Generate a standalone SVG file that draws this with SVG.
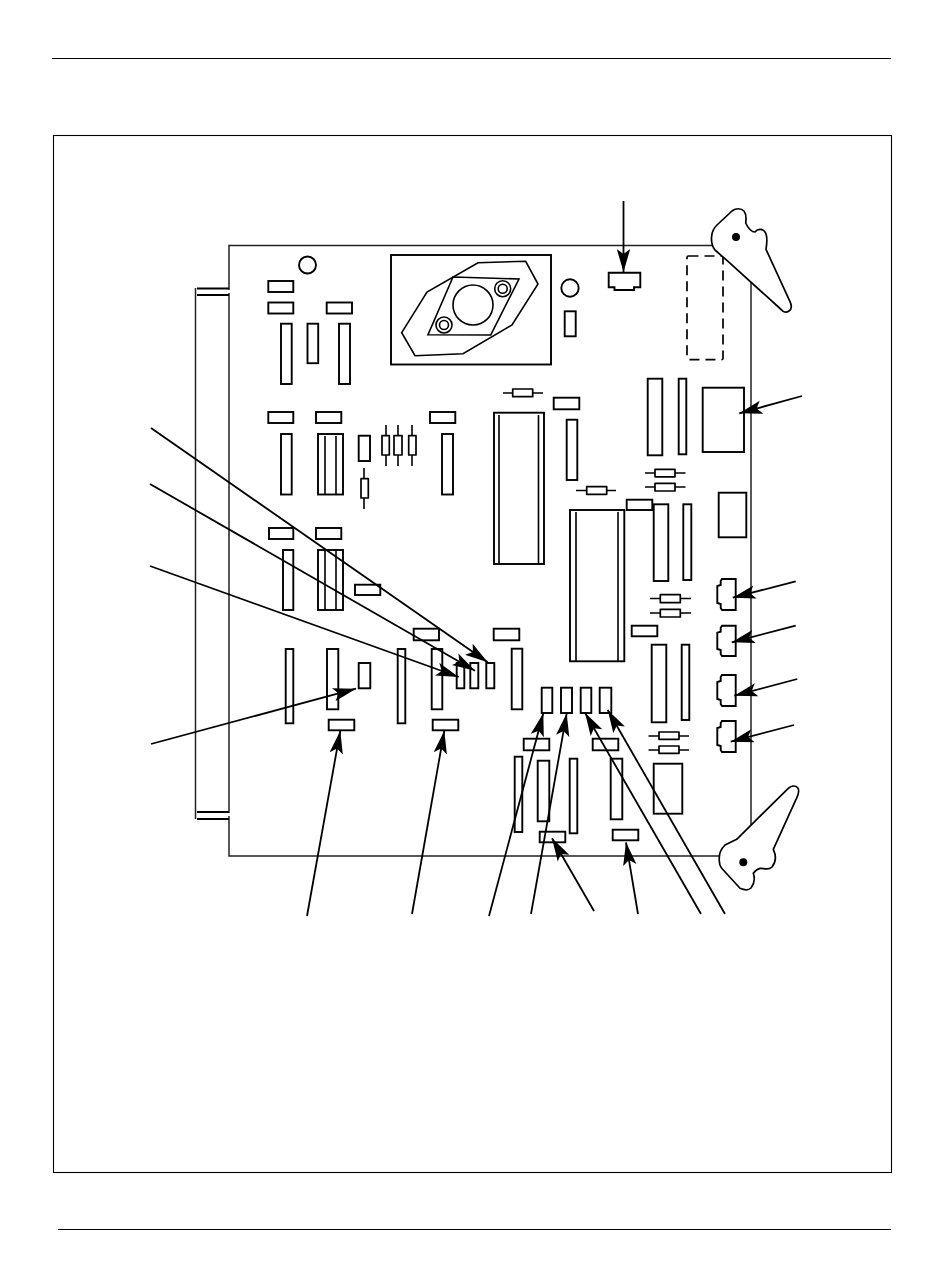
<svg xmlns="http://www.w3.org/2000/svg" width="950" height="1284" viewBox="0 0 950 1284">
<style>
.thin{fill:none;stroke:#000;stroke-width:1.1}
.board{fill:none;stroke:#222;stroke-width:1.5}
.p{fill:none;stroke:#000;stroke-width:1.9}
.w{fill:#fff;stroke:#000;stroke-width:1.7;stroke-linejoin:round}
.lead{stroke:#000;stroke-width:1.6;fill:none}
.a{fill:none;stroke:#000;stroke-width:1.8;marker-end:url(#ah)}
</style>
<defs>
<marker id="ah" markerUnits="userSpaceOnUse" markerWidth="24" markerHeight="14" refX="23" refY="7" orient="auto" viewBox="0 0 24 14"><path d="M0 0.3L23 7L0 13.7L5 7Z" fill="#000"/></marker>
</defs>
<rect width="950" height="1284" fill="#fff"/>
<g id="page-rules">
<path class="thin" d="M52 58.5H891M58 1229.5H891"/>
<rect class="thin" x="53.5" y="135.5" width="838" height="1037"/>
</g>
<g id="board">
<path class="board" d="M229 290V245.500H751V856H229V816M229 813V293"/>
<path class="board" d="M195.500 288V819"/>
<path class="p" d="M197 288.500H229M197 295H229M197 812H229M197 819H229"/>
</g>
<g id="regulator">
<rect class="p" x="391" y="255" width="160" height="109.500"/>
<path class="lead" d="M401.700 332.700L427 292L478 262.700L525.700 261.300L538 284L512 325L463 353.700L415 355.700Z"/>
<path class="lead" d="M453 277L519 279L490.700 335L428 334.700Z"/>
<circle class="lead" cx="473" cy="305" r="20"/>
<circle class="lead" cx="444" cy="325" r="8"/><circle class="lead" cx="444" cy="325" r="4.500"/>
<circle class="lead" cx="502.700" cy="288.700" r="8"/><circle class="lead" cx="502.700" cy="288.700" r="4.500"/>
</g>
<g id="holes">
<circle class="p" cx="307.500" cy="265" r="8.500"/>
<circle class="p" cx="570" cy="288" r="8.700"/>
</g>
<g id="components-upper-left">
<rect class="p" x="268.300" y="281" width="25" height="11"/>
<rect class="p" x="268.300" y="302.500" width="25" height="11"/>
<rect class="p" x="326.700" y="302.500" width="25.300" height="11"/>
<rect class="p" x="281" y="323.700" width="10.700" height="60.300"/>
<rect class="p" x="307.500" y="323.700" width="10.700" height="39.500"/>
<rect class="p" x="339" y="323.700" width="11" height="60.300"/>
<rect class="p" x="268.300" y="412" width="25" height="11"/>
<rect class="p" x="316" y="412" width="25.300" height="11"/>
<rect class="p" x="430" y="412" width="25.300" height="11"/>
<rect class="p" x="281" y="434" width="10.700" height="60.500"/>
<rect class="p" x="318" y="434" width="25" height="60.500"/>
<path class="lead" d="M325 436V494M336 436V494"/>
<rect class="p" x="358.700" y="435.700" width="11.300" height="25.300"/>
<rect class="p" x="442" y="434" width="11" height="60.500"/>
<rect class="p" x="564.700" y="311.300" width="11" height="25"/>
</g>
<g id="resistors">
<path class="lead" d="M386 425V466M398 425V466M412 425V466M364 468V509"/>
<rect class="w" x="382" y="435.700" width="7.300" height="19.300"/>
<rect class="w" x="394" y="435.700" width="8" height="19.300"/>
<rect class="w" x="408.700" y="435.700" width="7.300" height="19.300"/>
<rect class="w" x="361" y="478.700" width="7.300" height="19.300"/>
<path class="lead" d="M503 393H543M645 473H685.500M645 487H685.500M576 490.500H616M650 598.500H691M650 613H691M648.500 736H689M648.500 750H689"/>
<rect class="w" x="512.700" y="389" width="20" height="7.700"/>
<rect class="w" x="655" y="469.300" width="20" height="7.500"/>
<rect class="w" x="655" y="483.300" width="20" height="7.700"/>
<rect class="w" x="586.700" y="486.700" width="20" height="7.600"/>
<rect class="w" x="660.300" y="594.700" width="20" height="8"/>
<rect class="w" x="660.300" y="609.300" width="20" height="7.700"/>
<rect class="w" x="659" y="732" width="20" height="7.300"/>
<rect class="w" x="659" y="746" width="20" height="7.300"/>
</g>
<g id="ic-left">
<rect class="p" x="494" y="412.700" width="50" height="151.300"/>
<path class="lead" d="M499 415V564M538.500 415V564"/>
</g>
<g id="ic-center">
<rect class="p" x="570" y="510" width="54.300" height="151.300"/>
<path class="lead" d="M576 512V661M618 512V661"/>
</g>
<g id="components-upper-right">
<path class="p" d="M608.700 272.700H640.300V287.300H634V290H614.500V287.300H608.700Z"/>
<rect x="687" y="256" width="36" height="103.700" rx="1.500" fill="none" stroke="#000" stroke-width="1.700" stroke-dasharray="10 6"/>
<rect class="p" x="553.700" y="397.700" width="25.600" height="11.600"/>
<rect class="p" x="566.700" y="419.700" width="10.600" height="60.300"/>
<rect class="p" x="647.700" y="378.700" width="14.600" height="76.600"/>
<rect class="p" x="678.700" y="378.700" width="7.600" height="75.600"/>
<rect class="p" x="702.700" y="387.700" width="41.300" height="64.300"/>
<rect class="p" x="626.700" y="499.700" width="25.600" height="10.300"/>
<rect class="p" x="653.700" y="504.300" width="14.600" height="76.700"/>
<rect class="p" x="683.300" y="504.300" width="8" height="75.700"/>
<rect class="p" x="718.700" y="492.700" width="27.600" height="44.600"/>
<rect class="p" x="631.700" y="625.700" width="25.600" height="10.600"/>
<rect class="p" x="651.700" y="644.700" width="14.600" height="77.600"/>
<rect class="p" x="681.700" y="644.700" width="7.600" height="75.300"/>
<rect class="p" x="653.700" y="763.700" width="28.600" height="50"/>
</g>
<g id="side-connectors">
<path class="p" d="M735.700 579H722L720.700 581V585L717.300 586V603L720.700 604V608L722 610H735.700Z"/>
<path class="p" d="M735.700 625.700H722L720.700 627.700V631.700L717.300 632.700V649L720.700 650V654L722 656H735.700Z"/>
<path class="p" d="M735.700 675H722L720.700 677V681L717.300 682V699L720.700 700V704L722 706H735.700Z"/>
<path class="p" d="M735.700 721H722L720.700 723V727L717.300 728V745L720.700 746V750L722 752H735.700Z"/>
</g>
<g id="components-middle">
<rect class="p" x="269" y="528" width="24.300" height="11"/>
<rect class="p" x="316" y="528" width="25.300" height="11"/>
<rect class="p" x="283" y="550" width="10.300" height="60"/>
<rect class="p" x="318" y="550" width="25" height="60"/>
<path class="lead" d="M325 550V610M336 550V610"/>
<rect class="p" x="355" y="584.700" width="25.300" height="10.300"/>
<rect class="p" x="413.700" y="628.700" width="25.300" height="11.600"/>
<rect class="p" x="493.700" y="628.700" width="25.600" height="11.600"/>
<rect class="p" x="285.700" y="649" width="7.600" height="74.300"/>
<rect class="p" x="327" y="649" width="11.300" height="60.300"/>
<rect class="p" x="358.700" y="663" width="11.600" height="25.300"/>
<rect class="p" x="397.700" y="649" width="7.600" height="74.300"/>
<rect class="p" x="431.700" y="649" width="10.600" height="60.300"/>
<rect class="p" x="456.700" y="663" width="7.600" height="25.300"/>
<rect class="p" x="470.300" y="663" width="8" height="25.300"/>
<rect class="p" x="486.300" y="663" width="8" height="25.300"/>
<rect class="p" x="511.700" y="648.700" width="10.600" height="60.600"/>
<rect class="p" x="328.700" y="719.700" width="25.600" height="10.600"/>
<rect class="p" x="432.700" y="719.700" width="25.600" height="10.600"/>
</g>
<g id="components-lower">
<rect class="p" x="541.700" y="687.700" width="10.600" height="25.300"/>
<rect class="p" x="561" y="687.700" width="11" height="25.300"/>
<rect class="p" x="580.700" y="687.700" width="10.600" height="25.300"/>
<rect class="p" x="599.700" y="687.700" width="11.600" height="25.300"/>
<rect class="p" x="523.700" y="738.700" width="25.600" height="11.600"/>
<rect class="p" x="592.700" y="738.700" width="25.600" height="11.600"/>
<rect class="p" x="514.700" y="756.700" width="7.600" height="75.300"/>
<rect class="p" x="537.700" y="760.700" width="11.600" height="60.600"/>
<rect class="p" x="569.700" y="758.700" width="7.600" height="74.600"/>
<rect class="p" x="610.700" y="758.700" width="11.600" height="60.600"/>
<rect class="p" x="539.700" y="831.700" width="25.600" height="10.600"/>
<rect class="p" x="612.700" y="829.700" width="25.600" height="10.600"/>
</g>
<g id="ejector-top">
<path class="w" d="M711.700 236C712 231 714 228 717 225L732 211C736 208 741 208 744 211C747 215 746 220 745.700 223C748 228 751 232 755 232C758 228 763 229 765 232C768 236 767 243 766 249.300L790 301.700C792 306 792 309 789 311C786 313 783 312 781.700 310L728.300 261.700L715 250C712 246 711 241 711.700 236Z"/>
<circle cx="736" cy="237" r="4" fill="#000"/>
</g>
<g id="ejector-bottom">
<path class="w" d="M719.300 858.300C719 853 721 849 725 845L736.700 839.300L788.300 788.300C791 786 795 785 797.500 787.500C800 790 799 794 795 801.700L773.300 849.300C776 855 776 862 772 867C768 871 764 868 760 868.300C757 869 755 871 753.300 873.300C755 878 754 884 751 888C748 891 744 890 740 888.300L721.700 868.300C719 865 719 862 719.300 858.300Z"/>
<circle cx="743.300" cy="862.300" r="4" fill="#000"/>
</g>
<g id="connectors">
<path class="a" d="M623.500 201V272"/>
<path class="a" d="M802 396L739.300 413.300"/>
<path class="a" d="M795.700 581.300L732.700 597.700"/>
<path class="a" d="M795.700 625.700L731.700 642.300"/>
<path class="a" d="M797.300 679L734.300 695.700"/>
<path class="a" d="M794 725L730.700 741.700"/>
<path class="a" d="M725 914L607.700 710"/>
<path class="a" d="M701 914L585 712.700"/>
<path class="a" d="M638 914L626 842.300"/>
<path class="a" d="M594 911L552 838.300"/>
<path class="a" d="M531 914L566.700 713.300"/>
<path class="a" d="M489 916L543.300 713.300"/>
<path class="a" d="M412 914L444.300 730.700"/>
<path class="a" d="M307 916L340.300 730.700"/>
<path class="a" d="M151 744L356 688.700"/>
<path class="a" d="M150 566L458.700 677"/>
<path class="a" d="M150 484L475 670.700"/>
<path class="a" d="M151 428L487.700 662.300"/>
</g>
</svg>
